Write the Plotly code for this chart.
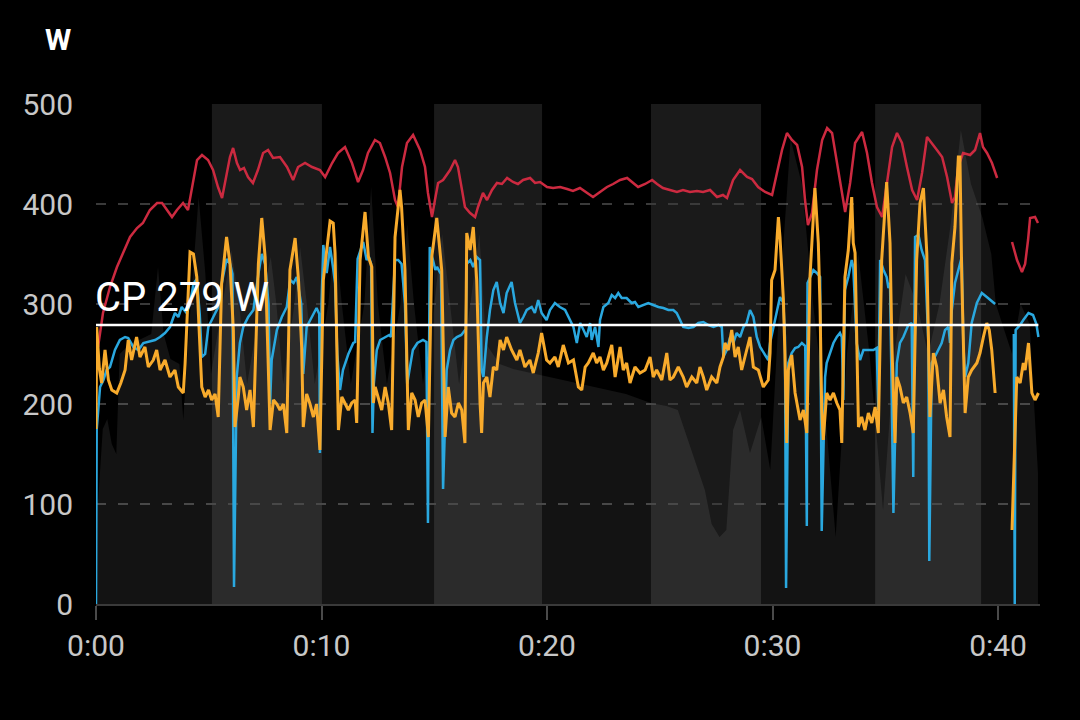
import plotly.graph_objects as go

# ---------------- data (minutes, watts) ----------------
orange_t = [0.00,0.03,0.15,0.25,0.40,0.55,0.70,0.92,1.10,1.29,1.43,1.58,1.80,1.95,2.17,2.32,2.54,2.69,2.84,3.06,3.28,3.50,3.65,3.87,3.95,
            4.17,4.32,4.47,4.54,4.69,4.84,4.99,5.13,5.28,5.42,5.57,5.79,5.94,6.09,6.16,6.31,6.38,6.53,6.68,6.83,6.98,
            7.20,7.35,7.50,7.57,7.72,7.87,8.02,8.16,8.31,8.46,8.60,8.83,8.98,9.12,9.19,9.34,9.49,9.64,9.78,9.93,
            10.08,10.38,10.52,10.60,10.67,10.75,10.90,11.05,11.19,11.34,11.49,11.56,11.71,11.93,12.08,12.23,12.30,
            12.38,12.52,12.67,12.82,12.96,13.11,13.26,13.48,13.55,13.70,13.85,14.00,14.15,14.29,14.44,14.59,14.74,
            14.89,15.11,15.26,15.33,15.48,15.62,15.77,15.92,16.07,16.22,16.36,16.44,16.59,16.73,16.88,17.03,17.10,
            17.18,17.33,17.47,17.62,17.77,17.92,18.07,18.21,18.43,18.66,18.80,19.02,19.24,19.39,19.61,19.76,19.98,
            20.13,20.35,20.50,20.72,20.95,21.17,21.39,21.54,21.69,21.83,22.05,22.20,22.35,22.50,22.65,22.87,23.02,
            23.24,23.38,23.53,23.68,23.90,24.12,24.35,24.57,24.71,24.86,25.09,25.31,25.45,25.60,25.82,26.04,26.19,
            26.42,26.64,26.78,26.93,27.08,27.30,27.53,27.67,27.82,27.89,28.04,28.19,28.34,28.48,28.63,28.78,29.00,
            29.15,29.37,29.59,29.81,29.89,29.96,30.11,30.26,30.33,30.48,30.55,30.63,30.70,30.85,31.00,31.14,31.22,
            31.37,31.52,31.66,31.88,32.03,32.11,32.18,32.25,32.40,32.55,32.70,32.85,32.99,33.07,33.21,33.36,33.51,
            33.58,33.66,33.73,33.81,33.95,34.10,34.25,34.40,34.55,34.69,34.84,34.99,35.06,35.21,35.29,35.43,35.51,
            35.65,35.80,35.95,36.10,36.24,36.39,36.54,36.69,36.84,36.91,36.98,37.13,37.28,37.43,37.58,37.72,37.87,
            37.95,38.09,38.24,38.31,38.39,38.54,38.68,38.83,39.06,39.20,39.35,39.50,39.61,39.72,39.87,None,
            40.62,40.83,40.98,41.12,41.20,41.35,41.50,41.64,41.79]
orange_w = [175,277,235,221,254,224,214,211,221,234,264,244,267,247,257,237,244,254,234,244,227,234,217,211,240,
            352,350,327,291,217,207,214,204,210,187,320,367,341,274,177,207,227,217,194,214,177,
            340,386,347,284,174,204,200,194,200,171,334,366,324,257,177,210,200,187,200,154,
            324,383,381,351,267,174,207,201,194,201,204,181,344,392,347,337,201,
            217,207,194,217,201,174,367,414,397,334,174,211,204,187,201,204,167,
            347,386,351,334,167,217,191,187,201,194,161,371,354,377,324,201,171,
            221,227,207,237,234,264,254,267,254,244,254,237,244,231,251,271,244,
            241,247,237,259,241,244,217,214,237,241,251,241,247,234,241,259,227,
            257,234,241,221,237,231,234,247,227,234,224,251,224,227,237,227,217,
            227,221,237,227,214,227,221,237,247,261,254,274,247,257,234,247,267,
            237,234,217,224,251,324,334,387,367,305,250,161,234,249,211,194,184,
            194,171,327,416,361,294,194,164,211,204,211,201,194,161,327,354,407,
            361,351,261,177,187,174,191,181,197,171,344,394,422,361,261,161,227,
            217,201,207,191,171,344,401,416,351,261,187,251,237,201,214,187,167,
            341,377,447,447,327,191,227,234,241,251,267,281,274,254,211,None,
            74,227,221,241,234,261,211,204,211]

blue_t = [0.00,0.03,0.18,0.33,0.47,0.62,0.84,1.06,1.29,1.43,1.66,1.88,2.10,2.32,2.62,2.84,3.06,3.28,3.50,3.65,3.80,4.02,
          4.17,4.32,4.47,4.60,4.69,4.84,4.98,5.20,5.42,5.57,5.79,5.95,6.05,6.12,6.24,6.38,6.53,6.75,6.98,7.20,7.35,
          7.50,7.65,7.72,7.79,8.02,8.24,8.46,8.61,8.76,8.90,9.10,9.19,9.34,9.56,9.78,9.90,9.93,10.00,10.08,10.23,
          10.38,10.52,10.60,10.70,10.82,10.95,11.19,11.41,11.49,11.60,11.85,12.00,12.10,12.20,12.26,12.32,12.45,
          12.60,12.82,13.00,13.08,13.26,13.40,13.55,13.70,13.80,13.90,14.05,14.25,14.50,14.65,14.72,14.80,14.90,
          15.05,15.12,15.30,15.39,15.55,15.70,15.85,16.00,16.20,16.40,16.44,16.60,16.73,16.88,17.03,17.10,17.18,
          17.33,17.47,17.62,17.77,17.92,18.07,18.21,18.43,18.58,18.80,18.95,19.10,19.32,19.46,19.61,19.76,19.98,
          20.13,20.35,20.57,20.80,20.95,21.17,21.32,21.47,21.62,21.76,21.91,21.98,22.13,22.28,22.35,22.50,22.72,
          22.87,23.02,23.16,23.31,23.53,23.75,23.90,24.05,24.27,24.49,24.71,24.94,25.16,25.38,25.60,25.75,25.90,
          26.04,26.27,26.49,26.71,26.93,27.16,27.38,27.60,27.75,27.82,27.97,28.12,28.26,28.41,28.56,28.71,28.85,
          29.00,29.15,29.30,29.45,29.67,29.81,29.89,30.04,30.18,30.33,30.48,30.55,30.60,30.70,30.85,31.00,31.14,
          31.30,31.45,31.52,31.55,31.66,31.81,31.96,32.11,32.18,32.33,32.40,32.55,32.70,32.85,32.99,33.07,33.14,
          33.21,33.36,33.51,33.58,33.73,33.88,34.03,34.18,34.47,34.62,34.69,34.77,34.92,35.06,35.14,35.21,35.36,
          35.51,35.65,35.80,36.02,36.17,36.24,36.32,36.47,36.61,36.76,36.91,36.95,37.06,37.20,37.35,37.50,37.65,
          37.80,37.87,37.95,38.09,38.24,38.39,38.46,38.54,38.68,38.83,39.06,39.28,39.50,39.80,39.87,None,
          40.70,40.74,40.78,40.98,41.12,41.35,41.55,41.70,41.79]
blue_w = [0,174,217,224,234,237,254,264,267,266,257,254,261,262,264,267,271,277,291,287,297,291,
          300,320,325,290,247,250,277,287,297,320,345,340,330,17,227,261,277,287,294,330,350,
          340,300,200,244,274,287,297,324,321,327,300,230,277,287,296,290,151,300,359,331,
          357,335,321,250,214,234,250,261,262,345,362,344,347,340,171,220,254,
          264,267,269,267,344,344,340,300,220,234,254,261,264,262,81,357,347,
          334,337,330,115,234,254,264,267,269,275,340,344,337,347,344,234,227,
          267,294,314,322,301,291,311,322,301,281,287,294,297,291,304,291,284,
          294,301,297,294,287,277,261,281,274,267,281,264,277,257,284,297,301,
          309,306,311,306,306,301,302,297,299,301,299,297,296,294,294,291,284,
          277,276,277,281,282,279,277,279,277,247,254,267,261,271,267,277,281,
          294,287,267,257,249,244,261,277,294,307,301,267,16,241,251,256,257,
          261,258,78,321,327,334,331,327,73,227,241,251,261,267,271,267,204,
          314,327,344,337,261,244,254,254,254,256,194,344,334,327,316,321,91,
          241,261,267,279,281,127,367,369,354,344,261,43,241,247,254,261,274,
          277,261,294,321,334,347,260,227,241,281,301,311,307,302,300,None,
          270,0,274,279,284,291,289,280,267]

red_t = [0.09,0.31,0.62,0.93,1.20,1.51,1.82,2.08,2.39,2.71,2.93,3.15,3.37,3.59,3.86,4.08,4.26,4.48,4.70,4.97,5.19,5.41,
         5.59,5.72,5.94,6.08,6.25,6.39,6.56,6.74,6.96,7.18,7.41,7.63,7.85,8.16,8.47,8.74,8.96,9.27,9.58,9.93,10.16,
         10.47,10.73,11.04,11.35,11.62,11.84,12.06,12.37,12.59,12.82,13.04,13.26,13.39,13.57,13.79,14.06,14.37,
         14.59,14.72,14.90,15.03,15.17,15.39,15.70,15.92,16.05,16.23,16.36,16.59,16.81,16.94,17.16,17.34,17.56,
         17.78,18.00,18.23,18.49,18.71,18.94,19.25,19.47,19.69,20.00,20.27,20.58,20.89,21.15,21.46,21.77,22.04,
         22.35,22.66,22.93,23.24,23.55,23.81,24.04,24.35,24.66,24.88,25.14,25.45,25.76,26.03,26.34,26.65,26.92,
         27.23,27.54,27.80,27.98,28.25,28.56,28.87,29.09,29.36,29.67,29.98,30.20,30.42,30.64,30.86,31.09,31.31,
         31.44,31.57,31.75,31.97,32.20,32.42,32.64,32.86,33.08,33.22,33.44,33.66,33.97,34.19,34.41,34.63,34.86,
         35.08,35.30,35.52,35.74,35.96,36.19,36.41,36.63,36.85,37.07,37.29,37.52,37.74,37.96,38.09,38.23,38.45,
         38.76,38.98,39.20,39.33,39.51,39.73,39.96,None,40.62,40.84,41.06,41.20,41.33,41.42,41.64,41.77]
red_w = [257,291,317,337,351,367,376,381,394,401,401,394,387,394,401,394,417,444,449,444,434,417,
         406,421,447,456,441,434,436,427,421,434,451,454,446,447,437,424,437,441,437,434,427,
         441,451,457,441,422,434,451,464,461,447,431,404,397,437,461,469,454,
         437,411,387,404,421,424,434,444,437,414,397,391,387,397,411,404,414,
         421,420,426,422,420,424,426,421,422,417,416,417,415,413,416,411,407,
         412,417,420,424,426,421,417,420,424,420,416,414,412,414,412,413,412,
         414,407,409,406,424,434,427,425,417,412,409,431,454,471,464,459,437,
         404,379,391,434,464,476,471,441,407,392,421,461,472,451,421,397,387,
         421,457,471,461,437,414,404,431,467,461,454,447,427,401,407,437,451,
         449,454,471,457,451,441,426,None,362,344,332,340,364,386,387,381]

area_t = [0.00,0.10,0.30,0.50,0.70,0.90,1.05,1.50,2.00,2.45,2.75,3.00,3.30,3.70,3.87,4.20,4.55,4.85,5.10,5.60,6.00,
          6.35,6.70,7.30,7.75,8.00,8.30,8.80,9.05,9.35,9.70,10.30,10.60,10.90,11.30,11.90,12.20,12.50,12.90,13.50,
          13.80,14.10,14.50,15.00,15.35,15.70,16.10,16.60,17.00,17.30,17.90,18.50,19.50,20.50,21.50,22.50,23.50,
          24.60,25.30,25.80,26.20,26.60,27.00,27.30,27.65,27.95,28.25,28.56,29.00,29.50,29.90,30.30,30.80,31.30,
          31.80,32.30,32.80,33.30,33.80,34.30,34.90,35.40,35.90,36.40,36.90,37.40,37.90,38.35,38.80,39.30,39.70,
          39.90,None,40.62,41.00,41.40,41.77]
area_w = [100,105,175,185,160,150,250,260,265,270,337,270,245,240,184,300,407,330,230,300,354,
          300,220,300,347,300,220,300,357,300,220,300,370,300,220,300,417,300,220,300,
          380,300,220,300,370,300,220,300,370,260,240,235,230,225,220,215,210,
          201,198,194,167,141,114,80,67,74,174,194,151,187,134,300,465,420,
          300,200,67,250,350,250,94,250,330,300,250,300,380,474,420,387,350,
          300,None,250,300,280,131]

bands_start = [5.14, 14.99, 24.61, 34.55]
bands_end = [10.02, 19.78, 29.49, 39.25]

cp_watts = 279
tick_minutes = [0, 10, 20, 30, 40]
tick_labels = ["0:00", "0:10", "0:20", "0:30", "0:40"]
y_ticks = [0, 100, 200, 300, 400, 500]

# ---------------- figure ----------------
fig = go.Figure()

fig.add_trace(go.Scatter(x=area_t, y=area_w, mode="lines", fill="tozeroy",
                         line=dict(width=0, color="rgba(0,0,0,0)"),
                         fillcolor="rgba(255,255,255,0.075)", hoverinfo="skip"))
fig.add_trace(go.Scatter(x=red_t, y=red_w, mode="lines",
                         line=dict(color="#cc2a40", width=2.5), connectgaps=False))
fig.add_trace(go.Scatter(x=blue_t, y=blue_w, mode="lines",
                         line=dict(color="#2aa8df", width=2.5), connectgaps=False))
fig.add_trace(go.Scatter(x=orange_t, y=orange_w, mode="lines",
                         line=dict(color="#f8ab2c", width=3), connectgaps=False))

t_end = max(t for t in orange_t if t is not None)

shapes = []
for s, e in zip(bands_start, bands_end):
    shapes.append(dict(type="rect", xref="x", yref="y", x0=s, x1=e, y0=0, y1=500,
                       fillcolor="rgba(255,255,255,0.10)", line=dict(width=0), layer="below"))
shapes.append(dict(type="line", xref="x", yref="y", x0=0, x1=t_end, y0=cp_watts, y1=cp_watts,
                   line=dict(color="white", width=2.5), layer="above"))

fig.update_layout(
    width=1080, height=720,
    margin=dict(l=96, r=40, t=104, b=116),
    paper_bgcolor="black", plot_bgcolor="black",
    showlegend=False,
    shapes=shapes,
    font=dict(family="Roboto", color="#c8c8c8"),
    annotations=[
        dict(text="<b>W</b>", xref="paper", yref="paper", x=-0.0403, y=1.13,
             xanchor="center", yanchor="middle", showarrow=False,
             font=dict(family="Roboto", size=30, color="white")),
        dict(text="CP %d W" % cp_watts, xref="x", yref="y", x=0, y=cp_watts,
             xanchor="left", yanchor="bottom", showarrow=False, xshift=-3, yshift=2,
             font=dict(family="Roboto", size=40, color="white")),
    ],
)
fig.update_xaxes(range=[0, 41.86], tickvals=tick_minutes, ticktext=tick_labels,
                 showgrid=False, zeroline=False, showline=True, linecolor="#3a3a3a", linewidth=2,
                 ticks="outside", ticklen=14, tickwidth=2, tickcolor="#4a4a4a",
                 tickfont=dict(family="Roboto", size=30, color="#c8c8c8"))
fig.update_yaxes(range=[0, 500], tickvals=y_ticks, showgrid=True, gridcolor="#3a3a3a",
                 gridwidth=2, griddash="10px,12px", zeroline=False, showline=False, ticks="",
                 ticklabelstandoff=22,
                 tickfont=dict(family="Roboto", size=30, color="#c8c8c8"))

fig.write_html("out.html")
